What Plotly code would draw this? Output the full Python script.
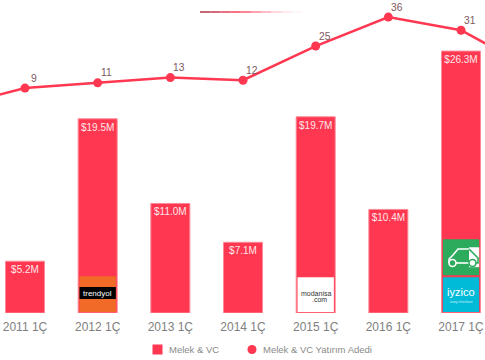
import plotly.graph_objects as go

years = [2010, 2011, 2012, 2013, 2014, 2015, 2016, 2017, 2018]
tick_years = [2011, 2012, 2013, 2014, 2015, 2016, 2017]
tick_labels = ["2011 1Ç", "2012 1Ç", "2013 1Ç", "2014 1Ç", "2015 1Ç", "2016 1Ç", "2017 1Ç"]
funding = [None, 5.2, 19.5, 11.0, 7.1, 19.7, 10.4, 26.3, None]
funding_labels = ["", "$5.2M", "$19.5M", "$11.0M", "$7.1M", "$19.7M", "$10.4M", "$26.3M", ""]
deals = [2, 9, 11, 13, 12, 25, 36, 31, 16]
deal_labels = ["", "9", "11", "13", "12", "25", "36", "31", ""]
legend_names = ["Melek & VC", "Melek & VC Yatırım Adedi"]

RED = "#FF3750"
FONT = "Liberation Sans"
PLOT_H = 313

fig = go.Figure()
fig.add_trace(go.Bar(
    x=years, y=funding, name=legend_names[0], width=0.537, showlegend=False,
    marker=dict(color=RED, line=dict(color="#FF8A98", width=1)),
    text=funding_labels, textposition="inside", insidetextanchor="end",
    textangle=0, constraintext="none",
    textfont=dict(family=FONT, size=10, color="#FFE6E9"),
    hoverinfo="skip",
))
fig.add_trace(go.Scatter(
    x=years, y=deals, name=legend_names[1], yaxis="y2", showlegend=False,
    mode="lines+markers",
    line=dict(color=RED, width=2.5),
    marker=dict(color=RED, size=9),
    hoverinfo="skip",
))


def logo_rect(x0, x1, y0, y1, color):
    return dict(type="rect", xref="x", yref="y", x0=x0, x1=x1, y0=y0, y1=y1,
                fillcolor=color, line=dict(width=0), layer="above")


def car_shape(path, color, width=1.6):
    # pixel path relative to the foot of the 2017 bar, y pointing up
    return dict(type="path", xref="x", yref="y", xsizemode="pixel", ysizemode="pixel",
                xanchor=2017, yanchor=0, path=path, fillcolor="rgba(0,0,0,0)",
                line=dict(color=color, width=width), layer="above")


def car_wheel(cx, color, fill):
    return dict(type="circle", xref="x", yref="y", xsizemode="pixel", ysizemode="pixel",
                xanchor=2017, yanchor=0, x0=cx - 3.5, x1=cx + 3.5, y0=46.5, y1=53.5,
                fillcolor=fill, line=dict(color=color, width=1.6), layer="above")


GREEN = "#2CAB5C"
shapes = [
    logo_rect(2011.75, 2012.25, 0.1, 3.7, "#F26A27"),
    logo_rect(2011.75, 2012.25, 1.4, 2.6, "#000000"),
    logo_rect(2014.75, 2015.25, 0.1, 3.6, "#FFFFFF"),
    logo_rect(2016.75, 2017.25, 0.1, 3.6, "#00BBD8"),
    logo_rect(2016.75, 2017.25, 3.8, 7.4, GREEN),
    logo_rect(2017.11, 2017.25, 4.6, 6.6, "#FFFFFF"),
    car_shape("M -12 50 L -12 54 L -8 58 L -3 64 L 8 64", "white"),
    car_shape("M -5 50 L 8 50", "white"),
    car_shape("M 8 64 L 14 58 L 17 55 L 17 50 L 15 50", GREEN),
    car_wheel(-8.5, "white", GREEN),
    car_wheel(11.5, GREEN, "white"),
]

# fading rule near the top of the picture
rule_stops = ["#A9243A", "#C52A42", "#E4304A", "#F73650", "#FF5068", "#FF7A8C", "#FFA2AF", "#FFC4CC", "#FFE2E6", "#FFF3F5"]
rule_w = 102 / 485 / len(rule_stops)
for i, c in enumerate(rule_stops):
    shapes.append(dict(type="line", xref="paper", yref="paper",
                       x0=200 / 485 + i * rule_w, x1=200 / 485 + (i + 1) * rule_w,
                       y0=1 - 12 / PLOT_H, y1=1 - 12 / PLOT_H,
                       line=dict(color=c, width=1.4), layer="above"))

# legend keys, drawn beneath the plot area
LEG_Y = 1 - 349.5 / PLOT_H
shapes.append(dict(type="rect", xref="paper", yref="paper", xsizemode="pixel", ysizemode="pixel",
                   xanchor=157.5 / 485, yanchor=LEG_Y, x0=-5, x1=5, y0=-5, y1=5,
                   fillcolor=RED, line=dict(width=0)))
shapes.append(dict(type="circle", xref="paper", yref="paper", xsizemode="pixel", ysizemode="pixel",
                   xanchor=252 / 485, yanchor=LEG_Y, x0=-4.5, x1=4.5, y0=-4.5, y1=4.5,
                   fillcolor=RED, line=dict(width=0)))


def note(x, y, text, size, color):
    return dict(x=x, y=y, xref="x", yref="y", text=text, showarrow=False,
                font=dict(family=FONT, size=size, color=color))


annotations = [
    note(2012, 2.0, "trendyol", 8, "white"),
    note(2015, 2.0, "modanisa", 7, "#333333"),
    note(2015.05, 1.35, "<span style='color:#E0283C'>.</span>com", 7, "#333333"),
    note(2017, 2.1, "iyzico", 11, "white"),
    note(2017, 1.15, "easy checkout", 3.5, "#D5F3F8"),
]
for yr, val, lab in zip(years, deals, deal_labels):
    if lab:
        annotations.append(dict(x=yr, y=val, xref="x", yref="y2", text=lab, showarrow=False,
                                xshift=9, yshift=10,
                                font=dict(family=FONT, size=10.3, color="#7D5A5E")))
for x_px, text in zip([168, 262], legend_names):
    annotations.append(dict(x=x_px / 485, y=LEG_Y, xref="paper", yref="paper", xanchor="left",
                            yanchor="middle", xshift=-1, text=text, showarrow=False,
                            font=dict(family=FONT, size=9.5, color="#8A8A8A")))

fig.update_layout(
    width=485, height=360, autosize=False,
    margin=dict(l=0, r=0, t=0, b=47),
    paper_bgcolor="white", plot_bgcolor="white",
    barmode="overlay", showlegend=False,
    shapes=shapes, annotations=annotations,
    xaxis=dict(range=[2010.656, 2017.33], tickmode="array", tickvals=tick_years, ticktext=tick_labels,
               showgrid=False, zeroline=False, showline=False, ticks="", ticklabelstandoff=5,
               tickfont=dict(family=FONT, size=12, color="#808080")),
    yaxis=dict(range=[0, 31.43], visible=False, fixedrange=True),
    yaxis2=dict(range=[-76.5, 42.5], overlaying="y", visible=False, fixedrange=True),
)
fig.write_html("out.html", config={"displayModeBar": False},
               post_script="document.body.style.margin='0';")
